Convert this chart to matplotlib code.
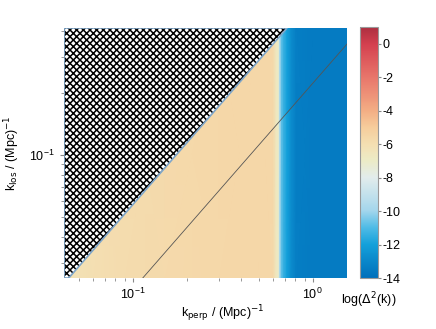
import numpy as np
import matplotlib.pyplot as plt
from matplotlib.colors import LinearSegmentedColormap

plt.rcParams['font.family'] = ['Liberation Sans', 'DejaVu Sans']
plt.rcParams['hatch.linewidth'] = 1.1

# k_perp profile of log(Delta^2) (field is constant along k_los)
kperp_pts = [0.0414, 0.06, 0.09, 0.15, 0.3, 0.5, 0.60, 0.625, 0.645, 0.655, 0.67, 0.69, 0.72, 0.76, 0.81, 1.0, 1.55]
logdelta = [-6.3, -6.0, -5.8, -5.7, -5.6, -5.55, -5.6, -6.6, -7.0, -9.5, -10.8, -11.4, -12.0, -12.8, -13.4, -13.5, -13.5]

kperp_lim = (0.0414, 1.55)
klos_lim = (0.0253, 0.414)
wedge_coef = 0.575      # k_los = wedge_coef * k_perp (hatched above)
line_coef = 0.223       # thin reference line

cb_ticks = [0, -2, -4, -6, -8, -10, -12, -14]
vmin, vmax = -14, 1

cmap = LinearSegmentedColormap.from_list('delta', [
    (0.0 / 15, '#0070bb'),
    (2.0 / 15, '#14a0da'),
    (3.0 / 15, '#4fbbe6'),
    (4.0 / 15, '#a4d6ec'),
    (6.0 / 15, '#e2ecec'),
    (7.0 / 15, '#ecebc6'),
    (8.0 / 15, '#f4dfb2'),
    (9.0 / 15, '#f6cd9c'),
    (10.0 / 15, '#f3ad84'),
    (12.0 / 15, '#e8766b'),
    (14.0 / 15, '#d4404f'),
    (15.0 / 15, '#ad2f40'),
])

fig = plt.figure(figsize=(4.36, 3.29), dpi=100)
ax = fig.add_axes([0.1468, 0.155, 0.649, 0.760])
cax = fig.add_axes([0.8257, 0.155, 0.0413, 0.763])

kp = np.array(kperp_pts)
kl = np.array(klos_lim)
Z = np.tile(np.array(logdelta), (len(kl), 1))
mesh = ax.pcolormesh(kp, kl, Z, cmap=cmap, vmin=vmin, vmax=vmax, shading='gouraud')

# hatched region above the wedge line
xs = [klos_lim[0] / wedge_coef, klos_lim[1] / wedge_coef, kperp_lim[0], kperp_lim[0]]
ys = [klos_lim[0], klos_lim[1], klos_lim[1], klos_lim[0]]
ax.fill(xs, ys, facecolor='white', edgecolor='black', hatch='xxxxx', linewidth=0, zorder=3)
ax.fill(xs, ys, facecolor='none', edgecolor='#7fa6c9', linewidth=1.2, zorder=4)

kline = np.array(kperp_lim)
ax.plot(kline, line_coef * kline, color='#555555', lw=0.6, zorder=2)

ax.set_xscale('log')
ax.set_yscale('log')
ax.set_xlim(kperp_lim)
ax.set_ylim(klos_lim)
for s in ax.spines.values():
    s.set_visible(False)
ax.tick_params(which='both', direction='out', color='#888888', labelsize=9)
ax.tick_params(which='major', length=3)
ax.tick_params(which='minor', length=2)

ax.set_xlabel(r'k$_{\rm perp}$ / (Mpc)$^{-1}$', fontsize=9)
ax.set_ylabel(r'k$_{\rm los}$ / (Mpc)$^{-1}$', fontsize=9)
ax.xaxis.set_label_coords(0.56, -0.1)
ax.yaxis.set_label_coords(-0.15, 0.5)

cb = fig.colorbar(mesh, cax=cax, ticks=cb_ticks)
cb.outline.set_edgecolor('#999999')
cb.ax.tick_params(direction='out', length=2, color='#888888', labelsize=9, pad=1)
cb.ax.set_yticklabels([str(t) for t in cb_ticks])
cb.ax.set_xlabel(r'log($\Delta^2$(k))', fontsize=9, labelpad=9)

fig.savefig('out.png', dpi=100)
